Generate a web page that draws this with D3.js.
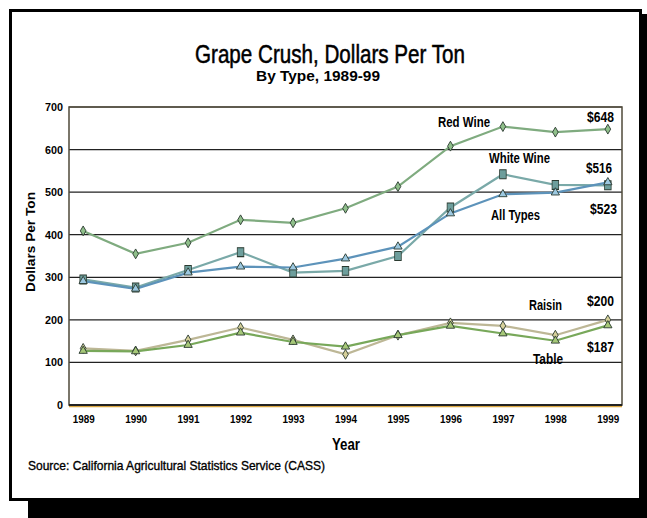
<!DOCTYPE html>
<html><head><meta charset="utf-8">
<script src="https://cdn.jsdelivr.net/npm/d3@7"></script>
<style>
body{margin:0;background:#fff;}
text{font-family:"Liberation Sans",Arial,sans-serif;}
</style></head>
<body><svg id="c" width="647" height="518"></svg>
<script>
const years = [1989,1990,1991,1992,1993,1994,1995,1996,1997,1998,1999];
const yTicks = [0,100,200,300,400,500,600,700];
const redWine   = [409,355,381,435,428,462,513,608,654,641,648];
const whiteWine = [295,276,317,359,311,315,350,464,542,517,516];
const allTypes  = [291,273,311,325,323,344,372,450,495,499,523];
const raisin    = [133,127,153,182,153,119,164,193,186,164,200];
const table     = [127,126,141,170,148,137,164,186,168,151,187];

const series = [
  {name:"Red Wine", values:redWine, line:"#7fab7f", fill:"#8fbf8a", marker:"diamond", size:28},
  {name:"White Wine", values:whiteWine, line:"#7aa9a8", fill:"#6d9e9c", marker:"square", size:60},
  {name:"All Types", values:allTypes, line:"#5d93ba", fill:"#9cc8e0", marker:"triangle", size:30},
  {name:"Raisin", values:raisin, line:"#bdb796", fill:"#d6d09a", marker:"diamond", size:28},
  {name:"Table", values:table, line:"#78a85a", fill:"#a6c878", marker:"triangle", size:30}
];
const labels = [
  {t:"Red Wine", x:438, y:127, w:52},
  {t:"$648", x:587, y:122, w:27},
  {t:"White Wine", x:489, y:163, w:61},
  {t:"$516", x:586, y:173, w:26},
  {t:"$523", x:590, y:214, w:27},
  {t:"All Types", x:491, y:220, w:49},
  {t:"Raisin", x:529, y:310, w:33},
  {t:"$200", x:587, y:306, w:27},
  {t:"$187", x:587, y:352, w:27},
  {t:"Table", x:533, y:364, w:30}
];

const svg = d3.select("#c");
function txt(g, x, y, s, size, weight, w, anchor){
  const t = g.append("text").attr("x",x).attr("y",y).attr("font-size",size)
    .attr("font-weight",weight).attr("text-anchor",anchor||"start").attr("fill","#000").text(s);
  if (w) t.attr("textLength",w).attr("lengthAdjust","spacingAndGlyphs");
  return t;
}
// shadow
svg.append("rect").attr("x",28).attr("y",14).attr("width",619).attr("height",504).attr("fill","#000");
// frame
svg.append("rect").attr("x",10.5).attr("y",10.5).attr("width",630).attr("height",489).attr("fill","#fff").attr("stroke","#000").attr("stroke-width",3);

const L=69,R=622,T=107,B=405;
const x = d3.scalePoint().domain(years).range([L,R]).padding(0.27);
const y = d3.scaleLinear().domain([0,700]).range([B,T]);

// gridlines
svg.append("g").selectAll("line").data(yTicks.filter(d=>d>0)).join("line")
  .attr("x1",L).attr("x2",R).attr("y1",d=>y(d)).attr("y2",d=>y(d))
  .attr("stroke","#222").attr("stroke-width",1.2);

// plot border
svg.append("rect").attr("x",L).attr("y",T).attr("width",R-L).attr("height",B-T)
  .attr("fill","none").attr("stroke","#4f4a3a").attr("stroke-width",1.5);
svg.append("line").attr("x1",L).attr("x2",R).attr("y1",B+1.5).attr("y2",B+1.5).attr("stroke","#d9a640").attr("stroke-width",1.5);
svg.append("line").attr("x1",L).attr("x2",R).attr("y1",B).attr("y2",B).attr("stroke","#222").attr("stroke-width",2);

// axes
const yAxis = d3.axisLeft(y).tickValues(yTicks).tickSize(0).tickPadding(6);
const gy = svg.append("g").attr("transform",`translate(${L},0)`).call(yAxis);
gy.select(".domain").remove();
gy.selectAll("text").attr("font-size",11).attr("font-weight","bold").attr("fill","#000")
  .attr("textLength",d=>d===0?6:18).attr("lengthAdjust","spacingAndGlyphs");

const xAxis = d3.axisBottom(x).tickSize(0).tickPadding(10).tickFormat(d3.format("d"));
const gx = svg.append("g").attr("transform",`translate(0,${B})`).call(xAxis);
gx.select(".domain").remove();
gx.selectAll("text").attr("font-size",11).attr("font-weight","bold").attr("fill","#000")
  .attr("textLength",22).attr("lengthAdjust","spacingAndGlyphs");

// lines
const line = d3.line().x((d,i)=>x(years[i])).y(d=>y(d));
const symMap = {diamond:d3.symbolDiamond, square:d3.symbolSquare, triangle:d3.symbolTriangle};
series.forEach(s=>{
  svg.append("path").datum(s.values).attr("d",line).attr("fill","none")
    .attr("stroke",s.line).attr("stroke-width",2.2);
});
series.forEach(s=>{
  svg.append("g").selectAll("path").data(s.values).join("path")
    .attr("transform",(d,i)=>`translate(${x(years[i])},${y(d)})`+(s.marker==="square"?" scale(0.85,1.15)":""))
    .attr("d",d3.symbol().type(symMap[s.marker]).size(s.size))
    .attr("fill",s.fill).attr("stroke","#2a3a30").attr("stroke-width",0.9);
});

// series labels
const gl = svg.append("g");
labels.forEach(d=>txt(gl, d.x, d.y, d.t, 14, "bold", d.w));

// titles
txt(svg, 195, 63, "Grape Crush, Dollars Per Ton", 25, "normal", 270).attr("stroke","#000").attr("stroke-width",0.5);
txt(svg, 256, 81, "By Type, 1989-99", 15, "bold", 124);
txt(svg, 0, 0, "Dollars Per Ton", 13, "bold", 100, "middle").attr("transform","translate(35,242) rotate(-90)");
txt(svg, 346, 450, "Year", 16, "bold", 28, "middle");
txt(svg, 28, 470, "Source:  California Agricultural Statistics Service (CASS)", 13, "normal", 297).attr("stroke","#000").attr("stroke-width",0.35);
</script></body></html>
